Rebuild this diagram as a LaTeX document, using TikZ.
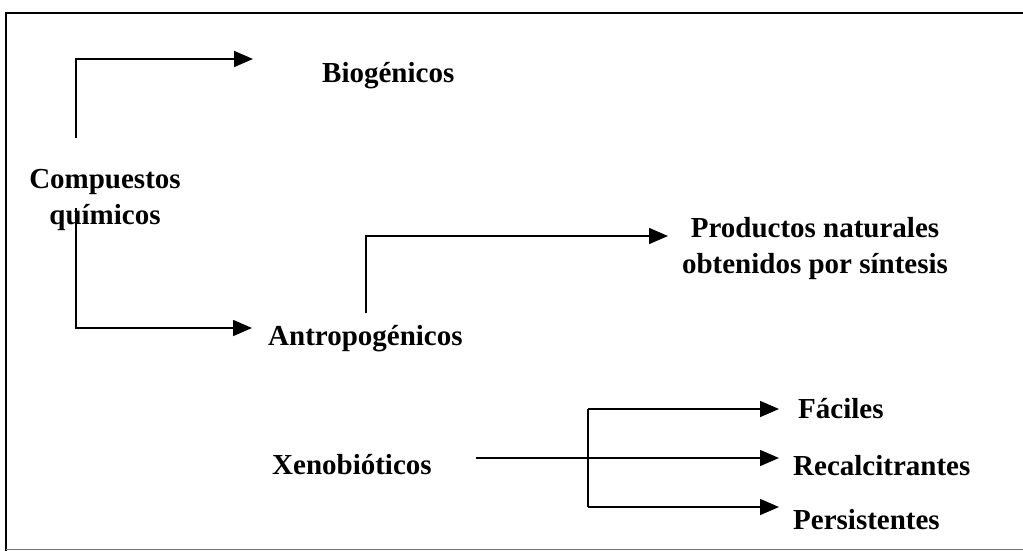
\documentclass[tikz,border=0pt]{standalone}
\usepackage{fontspec}
\setmainfont{Liberation Serif}
\usetikzlibrary{arrows.meta}
\begin{document}
\begin{tikzpicture}[x=1pt,y=-1pt,
  lbl/.style={font=\fontsize{29}{36}\selectfont\bfseries, inner sep=0pt, anchor=base west},
  lblc/.style={font=\fontsize{29}{36}\selectfont\bfseries, inner sep=0pt, align=center, anchor=base},
  conn/.style={line width=1.6pt, -{Triangle[length=19pt,width=16pt]}},
  plain/.style={line width=1.6pt},
  frame/.style={line width=1.8pt}]
\useasboundingbox (0,0) rectangle (1023,551);
% frame
\draw[frame] (6,551) -- (6,13) -- (1023,13);
\draw[line width=1pt, black!55] (6,549) -- (1023,549);
% labels
\node[lbl] (bio) at (322,83) {Biogénicos};
\node[lblc] (comp) at (105,224) {Compuestos\\químicos};
\node[lbl] (antro) at (268,345) {Antropogénicos};
\node[lblc] (prod) at (815,273) {Productos naturales\\obtenidos por síntesis};
\node[lbl] (xeno) at (272,474) {Xenobióticos};
\node[lbl] (fac) at (798,418) {Fáciles};
\node[lbl] (rec) at (793,475) {Recalcitrantes};
\node[lbl] (per) at (793,529) {Persistentes};
% connector end points
\coordinate (c1) at (76,138);
\coordinate (t1) at (253,59);
\coordinate (c2) at (76,208);
\coordinate (t2) at (252,328);
\coordinate (c3) at (366,313);
\coordinate (t3) at (668,236);
\coordinate (x0) at (476,458);
\coordinate (tx) at (779,458);
\coordinate (b1) at (588,409);
\coordinate (b2) at (588,507);
\coordinate (tf) at (779,409);
\coordinate (tp) at (779,507);
% connectors
\draw[conn] (c1) |- (t1);
\draw[conn] (c2) |- (t2);
\draw[conn] (c3) |- (t3);
\draw[conn] (x0) -- (tx);
\draw[plain] (b1) -- (b2);
\draw[conn] (b1) -- (tf);
\draw[conn] (b2) -- (tp);
\end{tikzpicture}
\end{document}
